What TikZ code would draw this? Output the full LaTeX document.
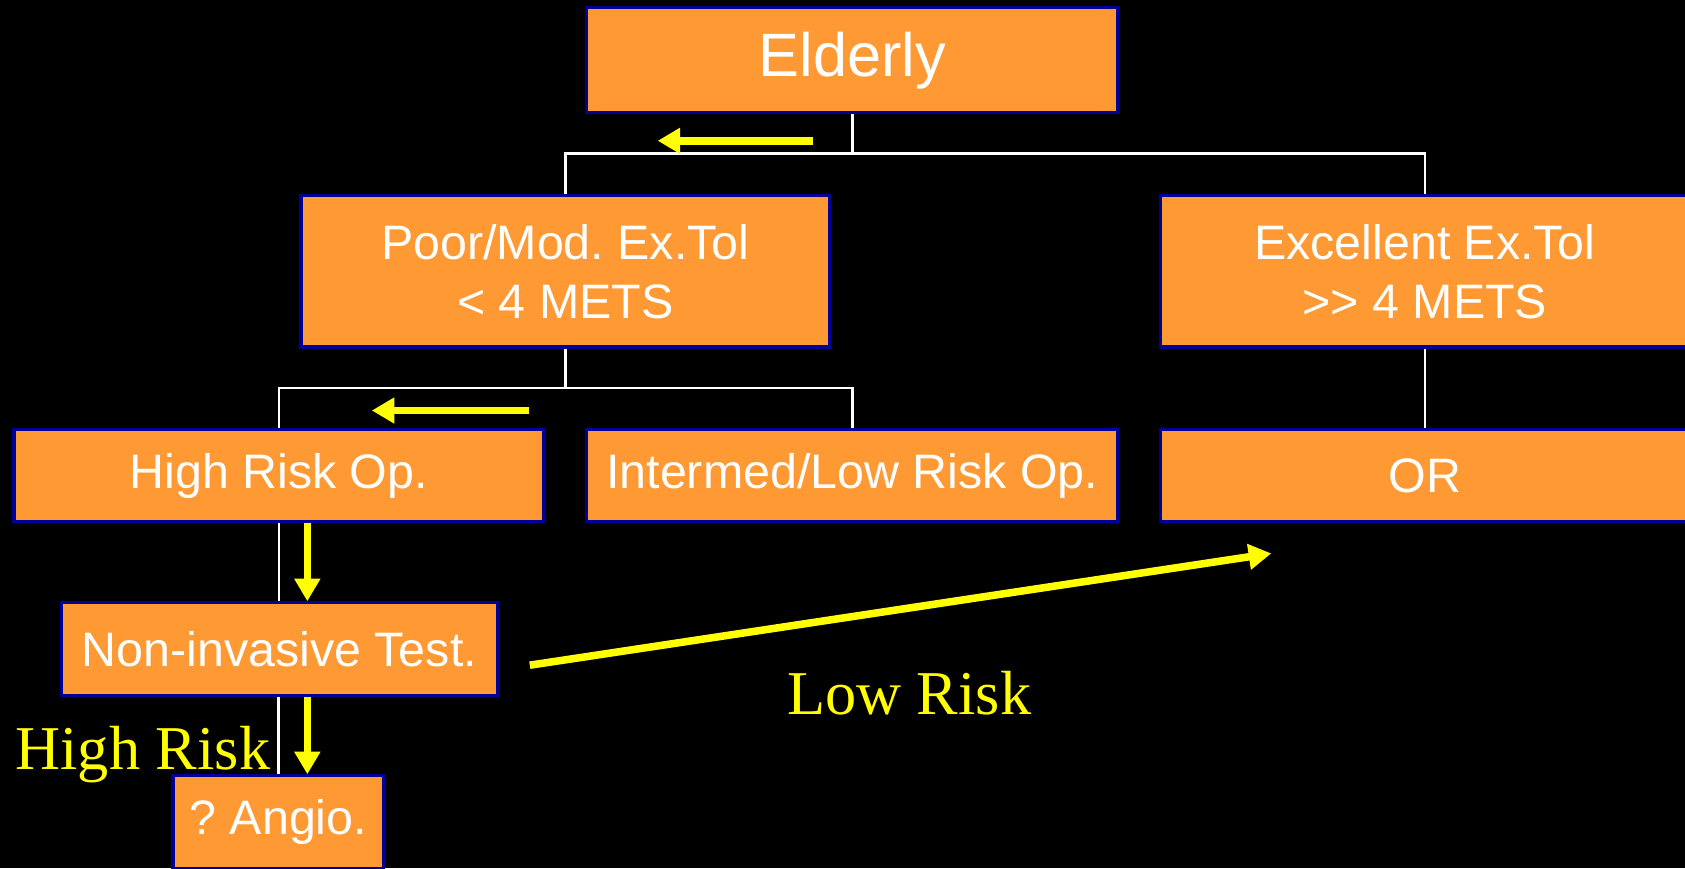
\documentclass[tikz,border=0pt]{standalone}
\usepackage{fontspec}
\setmainfont{Liberation Sans}[Ligatures=NoCommon]
\newfontfamily\serifyellow{Liberation Serif}
\usetikzlibrary{arrows.meta}
\definecolor{boxfill}{HTML}{FF9933}
\definecolor{boxedge}{HTML}{000099}
\definecolor{arrowyellow}{HTML}{FFFF00}
\tikzset{
  box/.style={draw=boxedge, line width=3pt, fill=boxfill, text=white, inner sep=0pt,
    font=\fontsize{45}{55}\selectfont, align=center},
  tree/.style={draw=white, line width=2.5pt},
  yarrow/.style={draw=arrowyellow, line width=7pt, -{Triangle[length=21pt,width=23pt]}},
  ylabel/.style={text=arrowyellow, font=\serifyellow\fontsize{58}{64}\selectfont, inner sep=0pt}
}
\frenchspacing
\begin{document}
\begin{tikzpicture}[x=1pt,y=1pt]
\useasboundingbox (0,0) rectangle (1568,-808);
\fill[black] (0,0) rectangle (1568,-808);
% boxes
\node[box, minimum width=494pt, minimum height=98pt, font=\fontsize{57}{66}\selectfont] (elderly) at (793,-56) {Elderly};
\node[box, minimum width=492pt, minimum height=141pt] (poor) at (526,-252.5) {Poor/Mod. Ex.Tol\\< 4 METS};
\node[box, minimum width=492pt, minimum height=141pt] (excel) at (1326,-252.5) {Excellent Ex.Tol\\{>}{>} 4 METS};
\node[box, minimum width=493pt, minimum height=85pt] (high) at (259.5,-442.5) {High Risk Op.};
\node[box, minimum width=494pt, minimum height=85pt] (inter) at (793,-442.5) {Intermed/Low Risk Op.};
\node[box, minimum width=492pt, minimum height=85pt] (orr) at (1326,-442.5) {OR};
\node[box, minimum width=406pt, minimum height=86pt] (noninv) at (260,-604) {Non-invasive Test.};
\node[box, minimum width=196pt, minimum height=86pt] (angio) at (259,-765) {? Angio.};
% tree lines
\coordinate (j1) at (793,-143);
\coordinate (j2) at (526,-361);
\draw[tree] (elderly.south) -- (j1);
\draw[tree] (poor.north) |- (j1) -| (excel.north);
\draw[tree] (poor.south) -- (j2);
\draw[tree] (high.north) |- (j2) -| (inter.north);
\draw[tree] (excel.south) -- (orr.north);
\draw[tree] (high.south) -- (high.south |- noninv.north);
\draw[tree] (noninv.south -| angio.north) -- (angio.north);
% yellow arrows
\coordinate (a1s) at (757,-131);
\coordinate (a1e) at (612,-131);
\coordinate (a2s) at (492,-382);
\coordinate (a2e) at (346,-382);
\coordinate (a5s) at (493,-619);
\coordinate (a5e) at (1183,-515);
\draw[yarrow] (a1s) -- (a1e);
\draw[yarrow] (a2s) -- (a2e);
\draw[yarrow] (high.south -| 286,0) -- (noninv.north -| 286,0);
\draw[yarrow] (noninv.south -| 286,0) -- (angio.north -| 286,0);
\draw[yarrow] (a5s) -- (a5e);
% labels
\node[ylabel, anchor=base] (hr) at (133,-716) {High Risk};
\node[ylabel, anchor=base] (lr) at (846,-665) {Low Risk};
\end{tikzpicture}
\end{document}
